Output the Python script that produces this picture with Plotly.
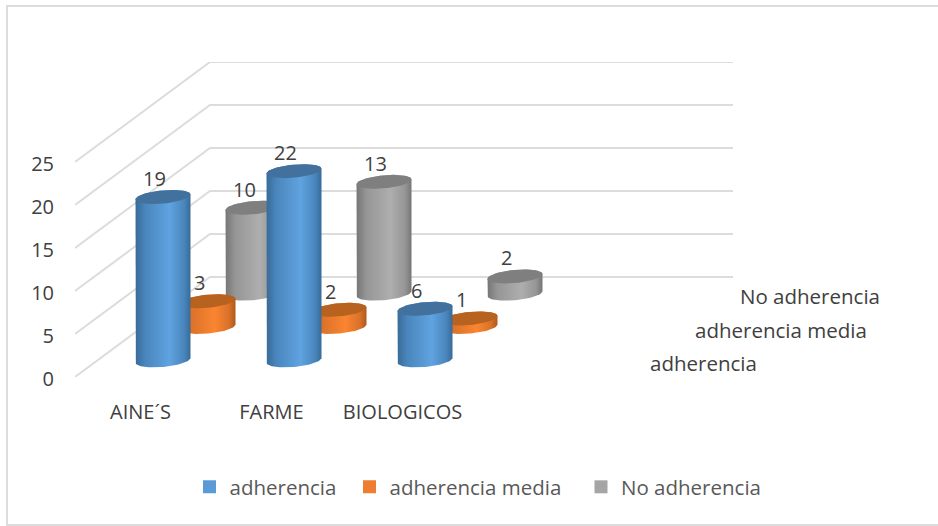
import math
import plotly.graph_objects as go

# Chart values
categories = ["AINE´S", "FARME", "BIOLOGICOS"]
series_names = ["No adherencia", "adherencia media", "adherencia"]  # back row to front row
adherencia = [19, 22, 6]
adherencia_media = [3, 2, 1]
no_adherencia = [10, 13, 2]
value_ticks = [0, 5, 10, 15, 20, 25]

# Canvas and oblique-projection settings
W, H = 938, 526
LEFT, RIGHT, TOP, FLOOR = 75, 733, 62, 377
CAT_PX = 131.0      # width of one category slot
UNIT_PX = 8.6       # height of one value unit
DEPTH_X, DEPTH_Y = 135.0, 100.0   # screen offset of the full chart depth
SLOTS = 4           # the value axis spans one empty slot after the last category

RADIUS_X = 25.8 / CAT_PX
RADIUS_D = 0.07
ROW_DEPTH = {"adherencia": 1 / 6, "adherencia media": 1 / 2, "No adherencia": 5 / 6}

FONT = "Open Sans"
TEXT = "#404040"
GRID = "#dcdcdc"

STYLE = {
    "adherencia": {
        "top": "#41719c",
        "side": [[0, "#386b98"], [0.18, "#4a86bd"], [0.62, "#5fa3e0"], [0.88, "#4a86bd"], [1, "#386b98"]],
        "swatch": "#5b9bd5",
    },
    "adherencia media": {
        "top": "#b8621f",
        "side": [[0, "#b0591b"], [0.18, "#d9722a"], [0.62, "#fb8530"], [0.88, "#d9722a"], [1, "#b0591b"]],
        "swatch": "#ed7d31",
    },
    "No adherencia": {
        "top": "#7f7f7f",
        "side": [[0, "#767676"], [0.18, "#969696"], [0.62, "#aeaeae"], [0.88, "#969696"], [1, "#767676"]],
        "swatch": "#a5a5a5",
    },
}


def project(cat, value, depth):
    """Map category / value / depth onto the flat x and y axes."""
    x = cat + depth * DEPTH_X / CAT_PX
    y = value + depth * DEPTH_Y / UNIT_PX
    return x, y


def ellipse_points(cat, value, depth, t0, t1, n=40):
    xs, ys = [], []
    for i in range(n + 1):
        t = t0 + (t1 - t0) * i / n
        px, py = project(cat + RADIUS_X * math.cos(t), value, depth + RADIUS_D * math.sin(t))
        xs.append(px)
        ys.append(py)
    return xs, ys


def cylinder(fig, name, cat, value):
    depth = ROW_DEPTH[name]
    style = STYLE[name]
    # silhouette tangent angle of the sheared ellipse
    tan_angle = math.atan2(RADIUS_D * DEPTH_X, RADIUS_X * CAT_PX)
    x_top, y_top = ellipse_points(cat, value, depth, tan_angle, tan_angle + math.pi)
    x_bot, y_bot = ellipse_points(cat, 0, depth, tan_angle + math.pi, tan_angle + 2 * math.pi)
    fig.add_trace(go.Scatter(
        x=x_top + x_bot, y=y_top + y_bot, mode="lines", line=dict(width=0),
        fill="toself",
        fillgradient=dict(type="horizontal", colorscale=style["side"]),
        hoverinfo="skip", showlegend=False,
    ))
    x_cap, y_cap = ellipse_points(cat, value, depth, 0, 2 * math.pi, 80)
    fig.add_trace(go.Scatter(
        x=x_cap, y=y_cap, mode="lines", line=dict(width=0),
        fill="toself", fillcolor=style["top"],
        hoverinfo="skip", showlegend=False,
    ))


fig = go.Figure()

# Side wall and back wall gridlines
for v in value_ticks:
    x0, y0 = project(-0.5, v, 0)
    x1, y1 = project(-0.5, v, 1)
    x2, y2 = project(SLOTS - 0.5, v, 1)
    fig.add_trace(go.Scatter(
        x=[x0, x1, x2], y=[y0, y1, y2], mode="lines",
        line=dict(color=GRID, width=2), hoverinfo="skip", showlegend=False,
    ))

# Rows are painted from the back of the chart to the front
values_by_name = {
    "adherencia": adherencia,
    "adherencia media": adherencia_media,
    "No adherencia": no_adherencia,
}
for name in series_names:
    for cat, value in enumerate(values_by_name[name]):
        cylinder(fig, name, cat, value)

# Value labels above each cylinder
annotations = []
for name in series_names:
    for cat, value in enumerate(values_by_name[name]):
        x, y = project(cat, value, ROW_DEPTH[name])
        annotations.append(dict(
            x=x, y=y, text=str(value), showarrow=False, xshift=-9, yshift=18.5,
            xanchor="center", yanchor="middle", font=dict(family=FONT, size=20, color=TEXT),
        ))

# Depth axis labels at the right of the floor
for name in series_names:
    x, y = project(SLOTS - 0.5, 0, ROW_DEPTH[name])
    annotations.append(dict(
        x=x, y=y, text=name, showarrow=False, xshift=26, yshift=-2.5,
        xanchor="left", yanchor="middle", font=dict(family=FONT, size=20.5, color=TEXT),
    ))


def paper_x(px):
    return (px - LEFT) / (RIGHT - LEFT)


def paper_y(px):
    return (FLOOR - px) / (FLOOR - TOP)


# Legend entries, one legend per series so each can be placed on its own
legend_layout = {}
legend_pos = {"adherencia": 195.5, "adherencia media": 355.5, "No adherencia": 587}
for i, name in enumerate(["adherencia", "adherencia media", "No adherencia"]):
    key = "legend" if i == 0 else f"legend{i + 1}"
    fig.add_trace(go.Scatter(
        x=[None], y=[None], mode="markers", name=name, legend=key,
        marker=dict(symbol="square", size=13, color=STYLE[name]["swatch"]),
    ))
    legend_layout[key] = dict(
        x=paper_x(legend_pos[name]), y=paper_y(487), xref="paper", yref="paper",
        xanchor="left", yanchor="middle", orientation="h", itemwidth=30, indentation=-6,
        font=dict(family=FONT, size=20.5, color="#595959"), bgcolor="rgba(0,0,0,0)",
    )

fig.update_layout(
    width=W, height=H, autosize=False,
    margin=dict(l=LEFT, r=W - RIGHT, t=TOP, b=H - FLOOR, pad=0),
    paper_bgcolor="white", plot_bgcolor="white",
    font=dict(family=FONT, color=TEXT),
    xaxis=dict(
        range=[-0.5, -0.5 + (RIGHT - LEFT) / CAT_PX],
        tickmode="array", tickvals=list(range(len(categories))), ticktext=categories,
        showgrid=False, zeroline=False, showline=False, ticks="",
        ticklabelstandoff=21, tickfont=dict(family=FONT, size=20, color=TEXT),
        fixedrange=True,
    ),
    yaxis=dict(
        range=[0, (FLOOR - TOP) / UNIT_PX],
        tickmode="array", tickvals=value_ticks,
        showgrid=False, zeroline=False, showline=False, ticks="",
        ticklabelstandoff=20, ticklabelshift=2,
        tickfont=dict(family=FONT, size=20, color=TEXT),
        fixedrange=True,
    ),
    annotations=annotations,
    # Chart frame: its right side runs off the page
    shapes=[dict(
        type="rect", xref="paper", yref="paper",
        x0=paper_x(7), x1=paper_x(950), y0=paper_y(525), y1=paper_y(6),
        line=dict(color="#dcdcdc", width=2), fillcolor="rgba(0,0,0,0)",
    )],
    **legend_layout,
)

fig.write_html("out.html")
